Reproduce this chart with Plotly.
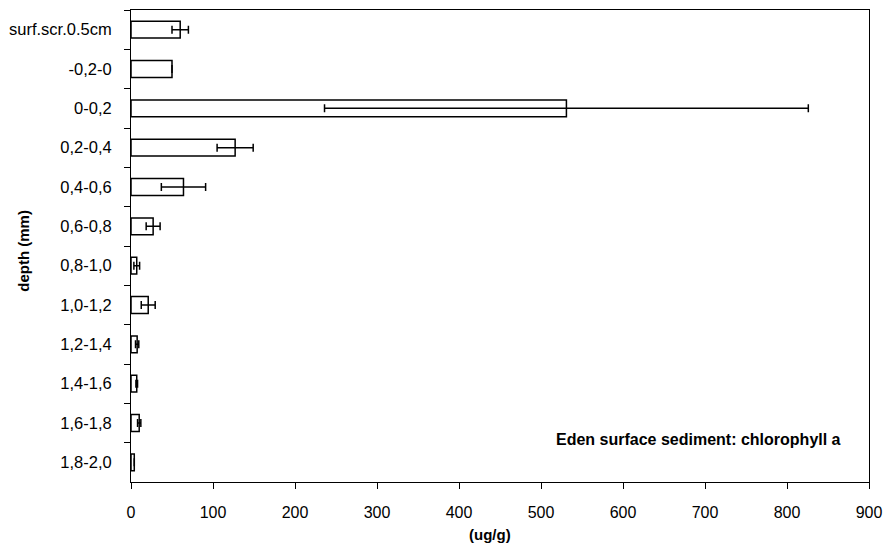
import plotly.graph_objects as go

categories = ["surf.scr.0.5cm", "-0,2-0", "0-0,2", "0,2-0,4", "0,4-0,6", "0,6-0,8",
              "0,8-1,0", "1,0-1,2", "1,2-1,4", "1,4-1,6", "1,6-1,8", "1,8-2,0"]
values = [60, 50, 531, 127, 64, 27, 7, 21, 7.5, 7, 10, 4]
errors = [10, 0, 295, 22, 27, 8.5, 3.5, 8.5, 2, 1, 2, 0]
x_ticks = [0, 100, 200, 300, 400, 500, 600, 700, 800, 900]
boundaries = [i - 0.5 for i in range(len(categories) + 1)]

FONT = "Liberation Sans, Arial, sans-serif"

fig = go.Figure()
fig.add_trace(go.Bar(
    y=categories, x=values, orientation="h",
    marker=dict(color="white", line=dict(color="black", width=1.5)),
    error_x=dict(type="data", array=errors, visible=True, color="black",
                 thickness=1.5, width=4),
    showlegend=False,
))

fig.update_layout(
    width=891, height=552,
    margin=dict(l=131, r=14, t=9, b=70),
    paper_bgcolor="white", plot_bgcolor="white",
    font=dict(family=FONT, size=16, color="black"),
    bargap=0.57,
    xaxis=dict(range=[0, 900], tickvals=x_ticks, showgrid=False, zeroline=False,
               showline=True, linecolor="black", linewidth=1, mirror=True,
               ticks="outside", ticklen=6, tickcolor="black", tickwidth=1,
               ticklabelstandoff=10, tickfont=dict(size=16)),
    xaxis2=dict(range=[0, 900], tickvals=x_ticks, overlaying="x", anchor="y",
                side="bottom", showgrid=False, zeroline=False, showline=False,
                ticks="inside", ticklen=6, tickcolor="black", tickwidth=1,
                showticklabels=False),
    yaxis=dict(type="category", categoryorder="array", categoryarray=categories,
               range=[11.5, -0.5], showgrid=False, zeroline=False,
               showline=True, linecolor="black", linewidth=1, mirror=True,
               ticks="outside", tickson="boundaries", ticklen=6,
               tickcolor="black", tickwidth=1, ticklabelstandoff=15,
               tickfont=dict(size=16.5)),
    yaxis2=dict(range=[11.5, -0.5], tickvals=boundaries, overlaying="y",
                anchor="x", side="left", showgrid=False, zeroline=False,
                showline=False, ticks="inside", ticklen=6, tickcolor="black",
                tickwidth=1, showticklabels=False),
    annotations=[
        dict(text="<b>Eden surface sediment: chlorophyll a</b>", xref="paper",
             yref="paper", x=0.965, y=0.089, xanchor="right", yanchor="middle",
             showarrow=False, font=dict(size=16)),
        dict(text="<b>depth (mm)</b>", xref="paper", yref="paper",
             x=-0.145, y=0.49, xanchor="center", yanchor="middle",
             textangle=-90, showarrow=False, font=dict(size=15)),
        dict(text="<b>(ug/g)</b>", xref="paper", yref="paper",
             x=0.487, y=-0.112, xanchor="center", yanchor="middle",
             showarrow=False, font=dict(size=15)),
    ],
)

fig.write_html("out.html")
